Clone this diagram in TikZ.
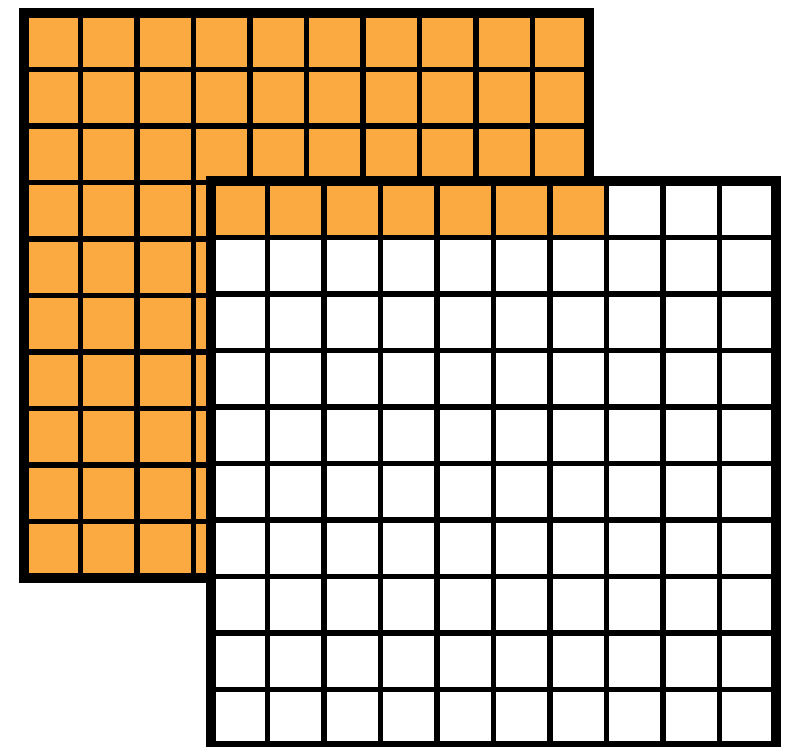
\documentclass[tikz,border=0pt]{standalone}
\definecolor{cellorange}{RGB}{251,169,65}
\tikzset{
  gridline/.style={line width=3.6pt, black},
  gridborder/.style={line width=7.2pt, black, line join=miter},
}
\begin{document}
\begin{tikzpicture}[x=0.025cm, y=-0.025cm]
\useasboundingbox (0,0) rectangle (796,747);
\def\p{56.5}
% back grid
\fill[cellorange] (24,13) rectangle (589,578);
\foreach \i in {1,...,9} {
  \draw[gridline] (24+\i*\p,13) -- (24+\i*\p,578);
  \draw[gridline] (24,13+\i*\p) -- (589,13+\i*\p);
}
\draw[gridborder] (24,13) rectangle (589,578);
% front grid
\fill[white] (211,181) rectangle (776,746);
\fill[cellorange] (211,181) rectangle (211+7*\p,181+\p);
\foreach \i in {1,...,9} {
  \draw[gridline] (211+\i*\p,181) -- (211+\i*\p,746);
  \draw[gridline] (211,181+\i*\p) -- (776,181+\i*\p);
}
\draw[gridborder] (211,181) rectangle (776,746);
\end{tikzpicture}
\end{document}
